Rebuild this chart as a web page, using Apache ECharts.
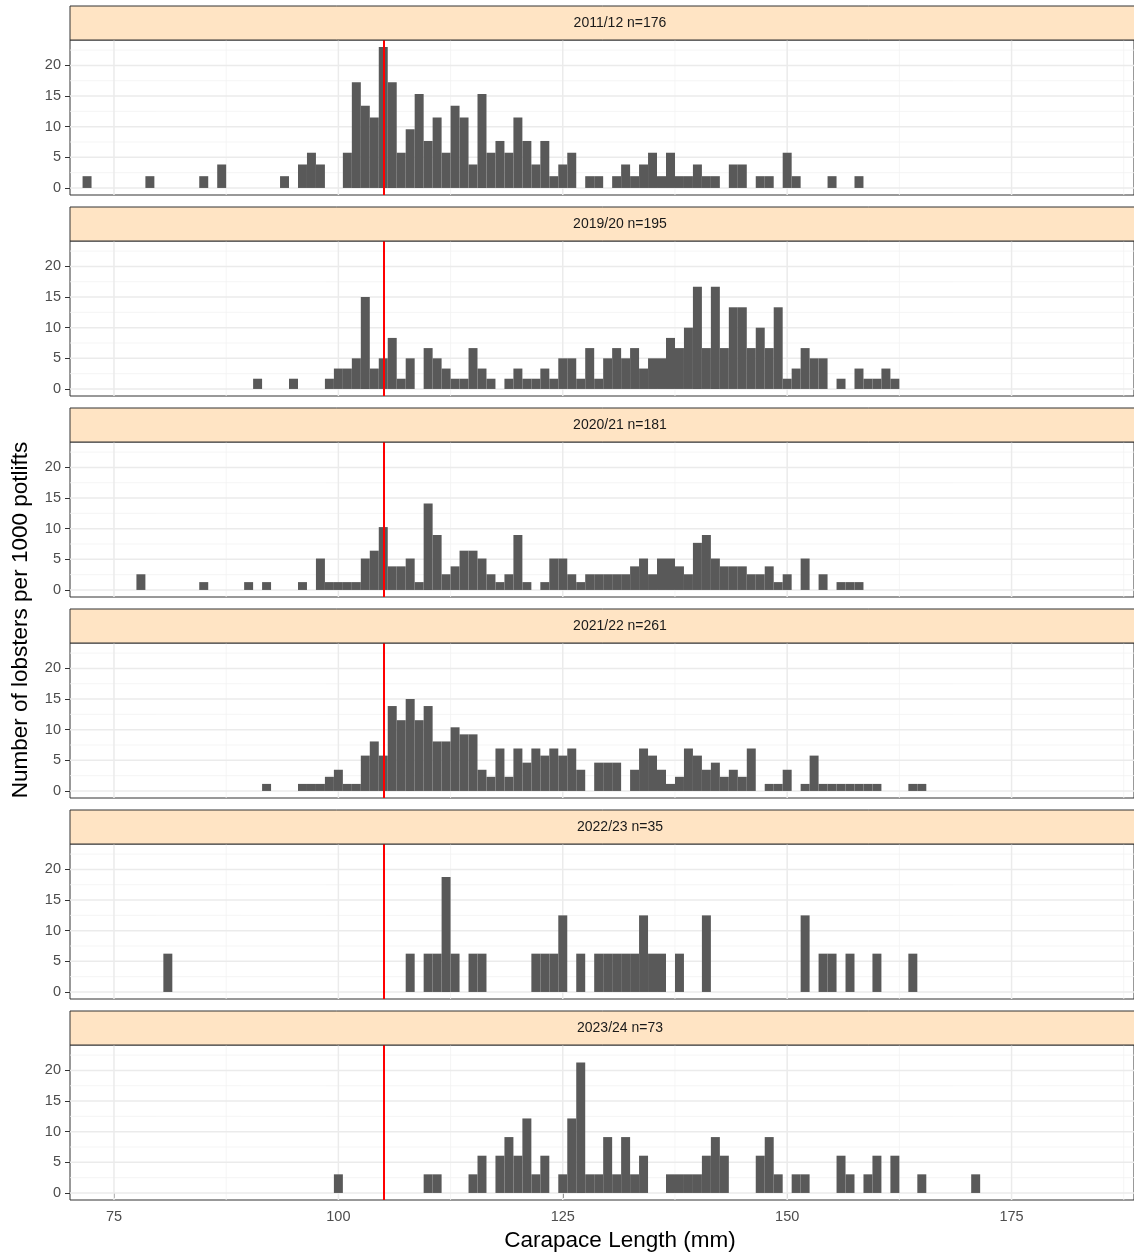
<!DOCTYPE html>
<html>
<head>
<meta charset="utf-8">
<script src="https://cdn.jsdelivr.net/npm/echarts@6/dist/echarts.min.js"></script>
<style>
html,body{margin:0;padding:0;background:#fff;overflow:hidden;}
#chart{width:1134px;height:1256px;}
</style>
</head>
<body>
<div id="chart"></div>
<script>
// ---------------- DATA ----------------
const seasons = ['2011/12 n=176','2019/20 n=195','2020/21 n=181','2021/22 n=261','2022/23 n=35','2023/24 n=73'];

const len2011 = [72,79,85,87,94,96,97,98,101,102,103,104,105,106,107,108,109,110,111,112,113,114,115,116,117,118,119,120,121,122,123,124,125,126,128,129,131,132,133,134,135,136,137,138,139,140,141,142,144,145,147,148,150,151,155,158];
const val2011 = [1.92,1.92,1.92,3.83,1.92,3.83,5.75,3.83,5.75,17.25,13.42,11.5,23.0,17.25,5.75,9.58,15.33,7.67,11.5,5.75,13.42,11.5,3.83,15.33,5.75,7.67,5.75,11.5,7.67,3.83,7.67,1.92,3.83,5.75,1.92,1.92,1.92,3.83,1.92,3.83,5.75,1.92,5.75,1.92,1.92,3.83,1.92,1.92,3.83,3.83,1.92,1.92,5.75,1.92,1.92,1.92];

const len2019 = [91,95,99,100,101,102,103,104,105,106,107,108,110,111,112,113,114,115,116,117,119,120,121,122,123,124,125,126,127,128,129,130,131,132,133,134,135,136,137,138,139,140,141,142,143,144,145,146,147,148,149,150,151,152,153,154,156,158,159,160,161,162];
const val2019 = [1.67,1.67,1.67,3.33,3.33,5.0,15.0,3.33,5.0,8.33,1.67,5.0,6.67,5.0,3.33,1.67,1.67,6.67,3.33,1.67,1.67,3.33,1.67,
  1.67,3.33,1.67,5.0,5.0,1.67,6.67,1.67,5.0,6.67,5.0,6.67,3.33,5.0,5.0,8.33,6.67,10.0,16.67,6.67,16.67,6.67,13.33,13.33,6.67,10.0,6.67,13.33,1.67,3.33,6.67,5.0,5.0,
  1.67,3.33,1.67,1.67,3.33,1.67];

const len2020 = [78,85,90,92,96,98,99,100,101,102,103,104,105,106,107,108,109,110,111,112,113,114,115,116,117,118,119,120,121,123,124,125,126,127,128,129,130,131,132,133,134,135,136,137,138,139,140,141,142,143,144,145,146,147,148,149,150,152,154,156,157,158];
const val2020 = [2.56,1.28,1.28,1.28,1.28,5.13,1.28,1.28,1.28,1.28,5.13,6.41,10.26,3.85,3.85,5.13,1.28,14.1,8.97,2.56,3.85,6.41,6.41,5.13,2.56,1.28,2.56,8.97,1.28,
  1.28,5.13,5.13,2.56,1.28,2.56,2.56,2.56,2.56,2.56,3.85,5.13,2.56,5.13,5.13,3.85,2.56,7.69,8.97,5.13,3.85,3.85,3.85,2.56,2.56,3.85,1.28,2.56,5.13,2.56,1.28,1.28,1.28];

const len2021 = [92,96,97,98,99,100,101,102,103,104,105,106,107,108,109,110,111,112,113,114,115,116,117,118,119,120,121,122,123,124,125,126,127,129,130,131,133,134,135,136,137,138,139,140,141,142,143,144,145,146,148,149,150,152,153,154,155,156,157,158,159,160,164,165];
const val2021 = [1.15,1.15,1.15,1.15,2.31,3.46,1.15,1.15,5.77,8.08,5.77,13.86,11.55,15.01,11.55,13.86,8.08,8.08,10.39,9.24,9.24,3.46,2.31,6.93,2.31,6.93,4.62,
  6.93,5.77,6.93,5.77,6.93,3.46,4.62,4.62,4.62,3.46,6.93,5.77,3.46,1.15,2.31,6.93,5.77,3.46,4.62,2.31,3.46,2.31,6.93,
  1.15,1.15,3.46,1.15,5.77,1.15,1.15,1.15,1.15,1.15,1.15,1.15,1.15,1.15];

const len2022 = [81,108,110,111,112,113,115,116,122,123,124,125,127,129,130,131,132,133,134,135,136,138,141,152,154,155,157,160,164];
const val2022 = [6.25,6.25,6.25,6.25,18.75,6.25,6.25,6.25,6.25,6.25,6.25,12.5,6.25,6.25,6.25,6.25,6.25,6.25,12.5,6.25,6.25,6.25,12.5,12.5,6.25,6.25,6.25,6.25,6.25];

const len2023 = [100,110,111,115,116,118,119,120,121,122,123,125,126,127,128,129,130,131,132,133,134,137,138,139,140,141,142,143,147,148,149,151,152,156,157,159,160,162,165,171];
const val2023 = [3.04,3.04,3.04,3.04,6.08,6.08,9.12,6.08,12.16,3.04,6.08,3.04,12.16,21.28,3.04,3.04,9.12,3.04,9.12,3.04,6.08,3.04,3.04,3.04,3.04,6.08,9.12,6.08,6.08,9.12,3.04,3.04,3.04,6.08,3.04,3.04,6.08,6.08,3.04,3.04];

const lengths = [len2011,len2019,len2020,len2021,len2022,len2023];
const values  = [val2011,val2019,val2020,val2021,val2022,val2023];

const xTicks = [75,100,125,150,175];
const xMinor = [87.5,112.5,137.5,162.5,187.5];
const yTicks = [0,5,10,15,20];
const yMinor = [2.5,7.5,12.5,17.5,22.5];
const mlsLine = 105;

// ---------------- LAYOUT ----------------
const X_MIN = 70.1, X_MAX = 188.64, Y_MIN = -1.15, Y_MAX = 24.15;
const GL = 70, GW = 1064, TOP0 = 40, PITCH = 201, GH = 155, STRIP = 34;
const PANEL_CX = 620;   // centre of the (cropped) facet panels
const FONT = '"Liberation Sans", Arial, sans-serif';

const chart = echarts.init(document.getElementById('chart'), null, {renderer:'canvas'});

const grids=[], xAxes=[], yAxes=[], series=[], graphics=[];

function gridItems(){
  const d=[];
  yMinor.forEach(v=>d.push([X_MIN,v,1]));
  xMinor.forEach(v=>d.push([v,Y_MIN,3]));
  yTicks.forEach(v=>d.push([X_MIN,v,0]));
  xTicks.forEach(v=>d.push([v,Y_MIN,2]));
  return d;
}
function renderGrid(params, api){
  const kind = api.value(2);
  let p1,p2;
  if(kind<2){ const v=api.value(1); p1=api.coord([X_MIN,v]); p2=api.coord([X_MAX,v]); }
  else { const v=api.value(0); p1=api.coord([v,Y_MIN]); p2=api.coord([v,Y_MAX]); }
  const major = (kind===0||kind===2);
  return {type:'line', shape:{x1:p1[0],y1:p1[1],x2:p2[0],y2:p2[1]},
    style:{stroke: major?'#EBEBEB':'#F3F3F3', lineWidth: major?1.5:0.8}};
}
function renderBar(params, api){
  const x=api.value(0), y=api.value(1);
  const p0=api.coord([x-0.5,y]);
  const p1=api.coord([x+0.5,0]);
  return {type:'rect', shape:{x:p0[0], y:p0[1], width:p1[0]-p0[0], height:p1[1]-p0[1]},
    style:{fill:'#595959'}};
}

seasons.forEach((s,i)=>{
  const top = TOP0 + PITCH*i;
  const last = i===seasons.length-1;
  grids.push({left:GL, top:top, width:GW, height:GH, containLabel:false, show:true,
    borderColor:'#333333', borderWidth:1, backgroundColor:'#ffffff'});
  xAxes.push({type:'value', gridIndex:i, min:X_MIN, max:X_MAX,
    splitLine:{show:false}, axisLine:{show:false},
    axisTick:{show:last, customValues:xTicks, length:5, lineStyle:{color:'#333333'}},
    axisLabel:{show:last, customValues:xTicks, color:'#4D4D4D', fontSize:14.5, fontFamily:FONT, margin:9}});
  yAxes.push({type:'value', gridIndex:i, min:Y_MIN, max:Y_MAX,
    splitLine:{show:false}, axisLine:{show:false},
    axisTick:{show:true, customValues:yTicks, length:5, lineStyle:{color:'#333333'}},
    axisLabel:{customValues:yTicks, color:'#4D4D4D', fontSize:14.5, fontFamily:FONT, margin:9}});
  series.push({type:'custom', xAxisIndex:i, yAxisIndex:i, z:1, silent:true,
    renderItem:renderGrid, data:gridItems(), animation:false});
  series.push({type:'custom', xAxisIndex:i, yAxisIndex:i, z:2, silent:true,
    renderItem:renderBar,
    data: lengths[i].map((l,k)=>[l, values[i][k]]),
    encode:{x:0,y:1}, animation:false,
    markLine:{silent:true, symbol:['none','none'], label:{show:false}, animation:false,
      lineStyle:{color:'#FF0000', width:2, type:'solid'}, emphasis:{disabled:true},
      data:[{xAxis:mlsLine}]}});
  graphics.push({type:'rect', shape:{x:GL, y:top-STRIP, width:1100, height:STRIP},
    style:{fill:'#FFE4C4', stroke:'#333333', lineWidth:1}, z:10});
  graphics.push({type:'text', x:PANEL_CX, y:top-STRIP/2, z:11,
    style:{text:s, fill:'#1A1A1A', font:'14px '+FONT, textAlign:'center', textVerticalAlign:'middle'}});
});

graphics.push({type:'text', x:21, y:620, rotation:Math.PI/2, z:11,
  style:{text:'Number of lobsters per 1000 potlifts', fill:'#000', font:'22.5px '+FONT,
    textAlign:'center', textVerticalAlign:'middle'}});
graphics.push({type:'text', x:PANEL_CX, y:1241, z:11,
  style:{text:'Carapace Length (mm)', fill:'#000', font:'22.5px '+FONT,
    textAlign:'center', textVerticalAlign:'middle'}});

chart.setOption({
  animation:false,
  backgroundColor:'#ffffff',
  textStyle:{fontFamily:FONT},
  grid:grids, xAxis:xAxes, yAxis:yAxes, series:series, graphic:graphics
});
</script>
</body>
</html>
